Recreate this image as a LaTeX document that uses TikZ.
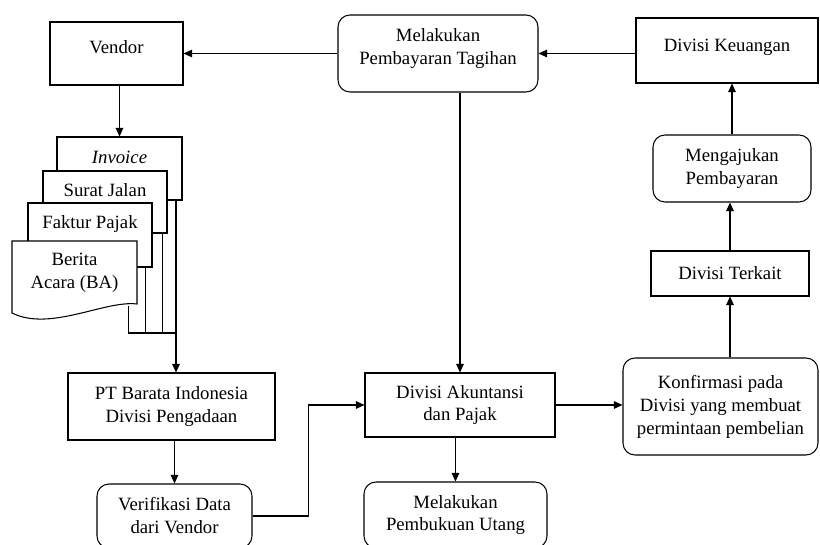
\documentclass[tikz,border=0pt]{standalone}
\usepackage{fontspec}
\setmainfont{Liberation Serif}
\usetikzlibrary{arrows.meta, positioning, calc}
\newcommand{\lift}[1]{\rule[-#1]{0pt}{#1}}
\tikzset{
  blk/.style ={draw, rectangle, inner sep=2pt, align=center, line width=0.9pt, fill=white, font=\fontsize{16}{19.6}\selectfont},
  rblk/.style={blk, rounded corners=3.6mm},
  doc/.style ={blk},
  par/.style ={-{Triangle[length=2.6mm, width=2.3mm]}, line width=0.9pt},
  lnk/.style ={line width=0.9pt},
}

\begin{document}
\begin{tikzpicture}[x=0.3mm, y=-0.3mm]
  \useasboundingbox (0,0) rectangle (820,545);
  % baris atas
  \node[blk, minimum width=39.9mm, minimum height=18.9mm, text depth=3.9mm] (vendor) at (116.5,53.5) {Vendor};
  \node[rblk, minimum width=60mm, minimum height=23.1mm] (bayar) at (438,53.5) {Melakukan\\Pembayaran Tagihan\lift{4mm}};
  \node[blk, minimum width=54.6mm, minimum height=19.5mm, text depth=3.3mm] (keu) at (727,50.5) {Divisi Keuangan};
  % tumpukan dokumen
  \node[doc, minimum width=37.5mm, minimum height=18.9mm, text depth=6.9mm] (inv) at (119.5,168.5) {\textit{Invoice}};
  \node[doc, minimum width=37.2mm, minimum height=18.6mm, text depth=7.2mm] (sj) at (105,202) {Surat Jalan};
  \node[doc, minimum width=37.2mm, minimum height=19.2mm, text depth=7.8mm] (fp) at (90,235) {Faktur Pajak};
  \draw[lnk, fill=white] (12,241) -- (137,241) -- (137,304) .. controls (105,300) and (50,332) .. (12,313) -- cycle;
  \node[doc, draw=none, fill=none, minimum width=37.5mm, minimum height=19.2mm] (ba) at (74.5,273) {Berita\\Acara (BA)};
  % baris bawah
  \node[blk, minimum width=62.1mm, minimum height=20.1mm] (pt) at (171.5,406.5) {PT Barata Indonesia\\Divisi Pengadaan};
  \node[rblk, minimum width=46.5mm, minimum height=19.2mm] (verif) at (174.5,516) {Verifikasi Data\\dari Vendor};
  \node[blk, minimum width=57mm, minimum height=19.2mm] (akun) at (460,405) {Divisi Akuntansi\\dan Pajak};
  \node[rblk, minimum width=54.9mm, minimum height=19.8mm] (buku) at (455.5,515) {Melakukan\\Pembukuan Utang};
  \node[rblk, minimum width=58.5mm, minimum height=29.1mm] (konf) at (720.5,406.5) {Konfirmasi pada\\Divisi yang membuat\\permintaan pembelian};
  \node[blk, minimum width=47.4mm, minimum height=13.5mm] (terkait) at (730,273.5) {Divisi Terkait};
  \node[rblk, minimum width=47.4mm, minimum height=20.1mm] (ajukan) at (732,168.5) {Mengajukan\\Pembayaran};
  % garis dokumen
  \coordinate (jn) at (176,333);
  \draw[lnk] (jn |- inv.south) -- (jn);
  \draw[lnk] ([xshift=-1.5mm]sj.south east) |- (jn);
  \draw[lnk] ([xshift=-2.1mm]fp.south east) |- (jn);
  \draw[lnk] ([xshift=-2.7mm]ba.south east) |- (jn);
  \draw[par] (jn) -- (jn |- pt.north);
  % panah
  \draw[par] (keu.west |- bayar.east) -- (bayar.east);
  \draw[par] (bayar.west) -- (vendor.east |- bayar.west);
  \draw[par] (inv.north |- vendor.south) -- (inv.north);
  \draw[par] (akun.north |- bayar.south) -- (akun.north);
  \draw[par] (verif.north |- pt.south) -- (verif.north);
  \draw[par] (verif.east) -- ++(56,0) |- (akun.west);
  \draw[par] (buku.north |- akun.south) -- (buku.north);
  \draw[par] (akun.east) -- (konf.west |- akun.east);
  \draw[par] (terkait.south |- konf.north) -- (terkait.south);
  \draw[par] (terkait.north) -- (terkait.north |- ajukan.south);
  \draw[par] (ajukan.north) -- (ajukan.north |- keu.south);
\end{tikzpicture}
\end{document}
